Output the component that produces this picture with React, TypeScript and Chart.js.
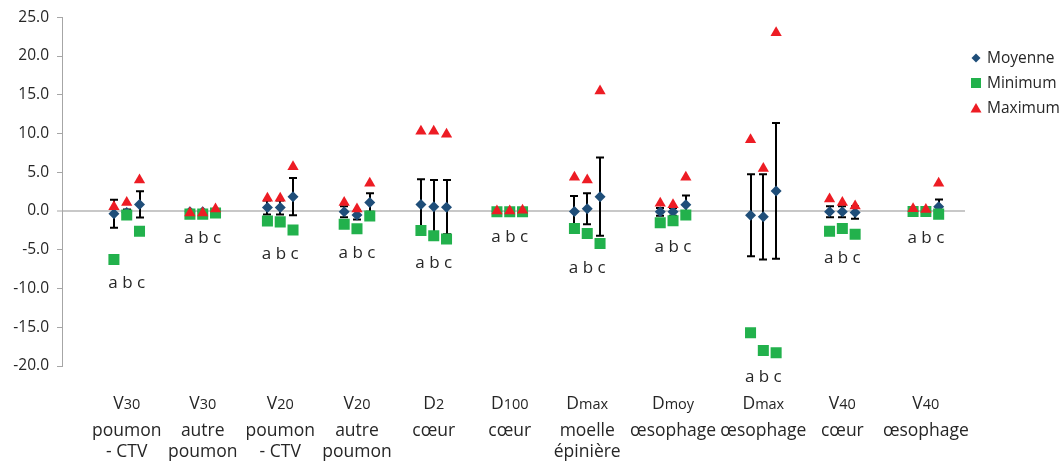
import React, { useEffect, useRef } from "react";
import { Chart, registerables } from "chart.js";

Chart.register(...registerables);

// ---- Data ----
const groupPositions = [0.86, 1.87, 2.9, 3.92, 4.94, 5.95, 6.98, 8.12, 9.32, 10.37, 11.48];
const subOffsets = [-0.17, 0, 0.17];
const subLabels = ["a", "b", "c"];

const catMain = ["V", "V", "V", "V", "D", "D", "D", "D", "D", "V", "V"];
const catSub = ["30", "30", "20", "20", "2", "100", "max", "moy", "max", "40", "40"];
const catLine2 = ["poumon", "autre", "poumon", "autre", "cœur", "cœur", "moelle", "œsophage", "œsophage", "cœur", "œsophage"];
const catLine3 = ["- CTV", "poumon", "- CTV", "poumon", "", "", "épinière", "", "", "", ""];

const moyenne = [
  -0.35, -0.2, 0.85,
  -0.1, -0.1, -0.05,
  0.45, 0.45, 1.85,
  -0.1, -0.5, 1.1,
  0.85, 0.55, 0.5,
  -0.05, -0.05, 0.0,
  -0.05, 0.3, 1.85,
  -0.1, -0.1, 0.8,
  -0.55, -0.75, 2.6,
  -0.1, -0.1, -0.2,
  0.0, 0.0, 0.55,
];
const ecart = [
  1.8, 0.4, 1.7,
  0.2, 0.2, 0.2,
  0.9, 0.9, 2.4,
  0.7, 0.6, 1.2,
  3.25, 3.45, 3.5,
  0.2, 0.2, 0.2,
  2.0, 2.0, 5.05,
  0.5, 0.5, 1.2,
  5.3, 5.5, 8.75,
  0.7, 0.7, 0.8,
  0.2, 0.2, 0.95,
];
const minimum = [
  -6.25, -0.5, -2.6,
  -0.4, -0.4, -0.25,
  -1.3, -1.4, -2.45,
  -1.7, -2.3, -0.65,
  -2.5, -3.2, -3.6,
  -0.1, -0.1, -0.1,
  -2.25, -2.9, -4.2,
  -1.5, -1.25, -0.5,
  -15.7, -18.0, -18.3,
  -2.6, -2.25, -3.0,
  -0.05, -0.05, -0.4,
];
const maximum = [
  0.55, 1.1, 4.0,
  -0.25, -0.25, 0.25,
  1.65, 1.65, 5.7,
  1.1, 0.25, 3.6,
  10.3, 10.3, 9.9,
  0.0, 0.0, 0.1,
  4.35, 4.0, 15.5,
  1.0, 0.8, 4.35,
  9.2, 5.5, 23.0,
  1.55, 1.1, 0.65,
  0.3, 0.2, 3.6,
];

const seriesNames = ["Moyenne", "Minimum", "Maximum"];
const yMin = -20;
const yMax = 25;
const yStep = 5;

// ---- Styles ----
const FONT = "'Open Sans', sans-serif";
const TEXT = "#262626";
const C_MEAN = "#1F4E79";
const C_MIN = "#22B14C";
const C_MAX = "#ED1C24";

const xValues = groupPositions.flatMap((g) => subOffsets.map((o) => g + o));
const toPts = (vals: number[]) => vals.map((v, i) => ({ x: xValues[i], y: v }));

const errorBarPlugin = {
  id: "errorBars",
  beforeDatasetsDraw(chart: any) {
    const { ctx, scales } = chart;
    const xs = scales.x;
    const ys = scales.y;
    ctx.save();
    ctx.strokeStyle = "#000000";
    ctx.lineWidth = 2;
    moyenne.forEach((m, i) => {
      const px = Math.round(xs.getPixelForValue(xValues[i]));
      const top = ys.getPixelForValue(m + ecart[i]);
      const bot = ys.getPixelForValue(m - ecart[i]);
      ctx.beginPath();
      ctx.moveTo(px, top);
      ctx.lineTo(px, bot);
      ctx.moveTo(px - 4, top);
      ctx.lineTo(px + 4, top);
      ctx.moveTo(px - 4, bot);
      ctx.lineTo(px + 4, bot);
      ctx.stroke();
    });
    ctx.restore();
  },
};

const labelsPlugin = {
  id: "labels",
  afterDraw(chart: any) {
    const { ctx, scales, chartArea } = chart;
    const xs = scales.x;
    const ys = scales.y;
    ctx.save();
    ctx.fillStyle = TEXT;
    ctx.textBaseline = "alphabetic";

    // a b c labels under each group
    groupPositions.forEach((g, gi) => {
      const lows = minimum.slice(gi * 3, gi * 3 + 3).concat(
        moyenne.slice(gi * 3, gi * 3 + 3).map((m, k) => m - ecart[gi * 3 + k])
      );
      const low = Math.min(...lows);
      const py = ys.getPixelForValue(low) + 29;
      ctx.font = `17px ${FONT}`;
      ctx.textAlign = "center";
      ctx.fillText(subLabels.join(" "), xs.getPixelForValue(g), py);
    });

    // category labels
    const b1 = chartArea.bottom + 43;
    const b2 = chartArea.bottom + 70;
    const b3 = chartArea.bottom + 91;
    groupPositions.forEach((g, gi) => {
      const cx = xs.getPixelForValue(g);
      const mainFont = `17.5px ${FONT}`;
      const subFont = `14.5px ${FONT}`;
      ctx.font = mainFont;
      const w1 = ctx.measureText(catMain[gi]).width;
      ctx.font = subFont;
      const w2 = ctx.measureText(catSub[gi]).width;
      const start = cx - (w1 + w2) / 2;
      ctx.textAlign = "left";
      ctx.font = mainFont;
      ctx.fillText(catMain[gi], start, b1);
      ctx.font = subFont;
      ctx.fillText(catSub[gi], start + w1, b1);
      ctx.font = mainFont;
      ctx.textAlign = "center";
      if (catLine2[gi]) ctx.fillText(catLine2[gi], cx, b2);
      if (catLine3[gi]) ctx.fillText(catLine3[gi], cx, b3);
    });

    // legend
    const lx = chartArea.right + 11;
    const ly = [58, 83, 108];
    ctx.font = `15.5px ${FONT}`;
    ctx.textAlign = "left";
    ctx.textBaseline = "middle";
    // diamond
    ctx.fillStyle = C_MEAN;
    ctx.beginPath();
    ctx.moveTo(lx, ly[0] - 4.5);
    ctx.lineTo(lx + 4.5, ly[0]);
    ctx.lineTo(lx, ly[0] + 4.5);
    ctx.lineTo(lx - 4.5, ly[0]);
    ctx.closePath();
    ctx.fill();
    // square
    ctx.fillStyle = C_MIN;
    ctx.fillRect(lx - 5, ly[1] - 5, 10, 10);
    // triangle
    ctx.fillStyle = C_MAX;
    ctx.beginPath();
    ctx.moveTo(lx, ly[2] - 5);
    ctx.lineTo(lx + 5.5, ly[2] + 4.5);
    ctx.lineTo(lx - 5.5, ly[2] + 4.5);
    ctx.closePath();
    ctx.fill();
    ctx.fillStyle = TEXT;
    seriesNames.forEach((n, i) => ctx.fillText(n, lx + 11, ly[i] + 1));
    ctx.restore();
  },
};

export default function App() {
  const ref = useRef<HTMLCanvasElement | null>(null);
  useEffect(() => {
    if (!ref.current) return;
    const chart = new Chart(ref.current, {
      type: "scatter",
      data: {
        datasets: [
          {
            label: seriesNames[0],
            data: toPts(moyenne),
            pointStyle: "rectRot",
            pointRadius: 5.5,
            backgroundColor: C_MEAN,
            borderColor: C_MEAN,
            borderWidth: 0,
            order: 3,
          },
          {
            label: seriesNames[1],
            data: toPts(minimum),
            pointStyle: "rect",
            pointRadius: 7.8,
            backgroundColor: C_MIN,
            borderColor: C_MIN,
            borderWidth: 0,
            order: 2,
          },
          {
            label: seriesNames[2],
            data: toPts(maximum),
            pointStyle: "triangle",
            pointRadius: 6.5,
            backgroundColor: C_MAX,
            borderColor: C_MAX,
            borderWidth: 0,
            order: 1,
          },
        ],
      },
      options: {
        responsive: false,
        animation: false,
        devicePixelRatio: 1,
        layout: { padding: { top: 17, bottom: 97, right: 97, left: 0 } },
        plugins: { legend: { display: false }, tooltip: { enabled: false } },
        scales: {
          x: { type: "linear", min: 0, max: 12, display: false },
          y: {
            min: yMin,
            max: yMax,
            afterFit(scale: any) {
              scale.width = 62;
            },
            ticks: {
              stepSize: yStep,
              callback: (v: any) => Number(v).toFixed(1),
              color: TEXT,
              font: { family: FONT, size: 15.5 },
              padding: 8,
            },
            grid: {
              drawOnChartArea: true,
              color: (c: any) => (c.tick && c.tick.value === 0 ? "#C8C8C8" : "rgba(0,0,0,0)"),
              lineWidth: (c: any) => (c.tick && c.tick.value === 0 ? 2 : 1),
              tickColor: "#A6A6A6",
              tickWidth: 1,
              tickLength: 5,
            },
            border: { display: true, color: "#A6A6A6", width: 1 },
          },
        },
      },
      plugins: [errorBarPlugin, labelsPlugin],
    } as any);
    return () => chart.destroy();
  }, []);
  return (
    <div style={{ position: "fixed", left: 0, top: 0, width: 1062, height: 463, background: "#fff" }}>
      <canvas ref={ref} width={1062} height={463} />
    </div>
  );
}
